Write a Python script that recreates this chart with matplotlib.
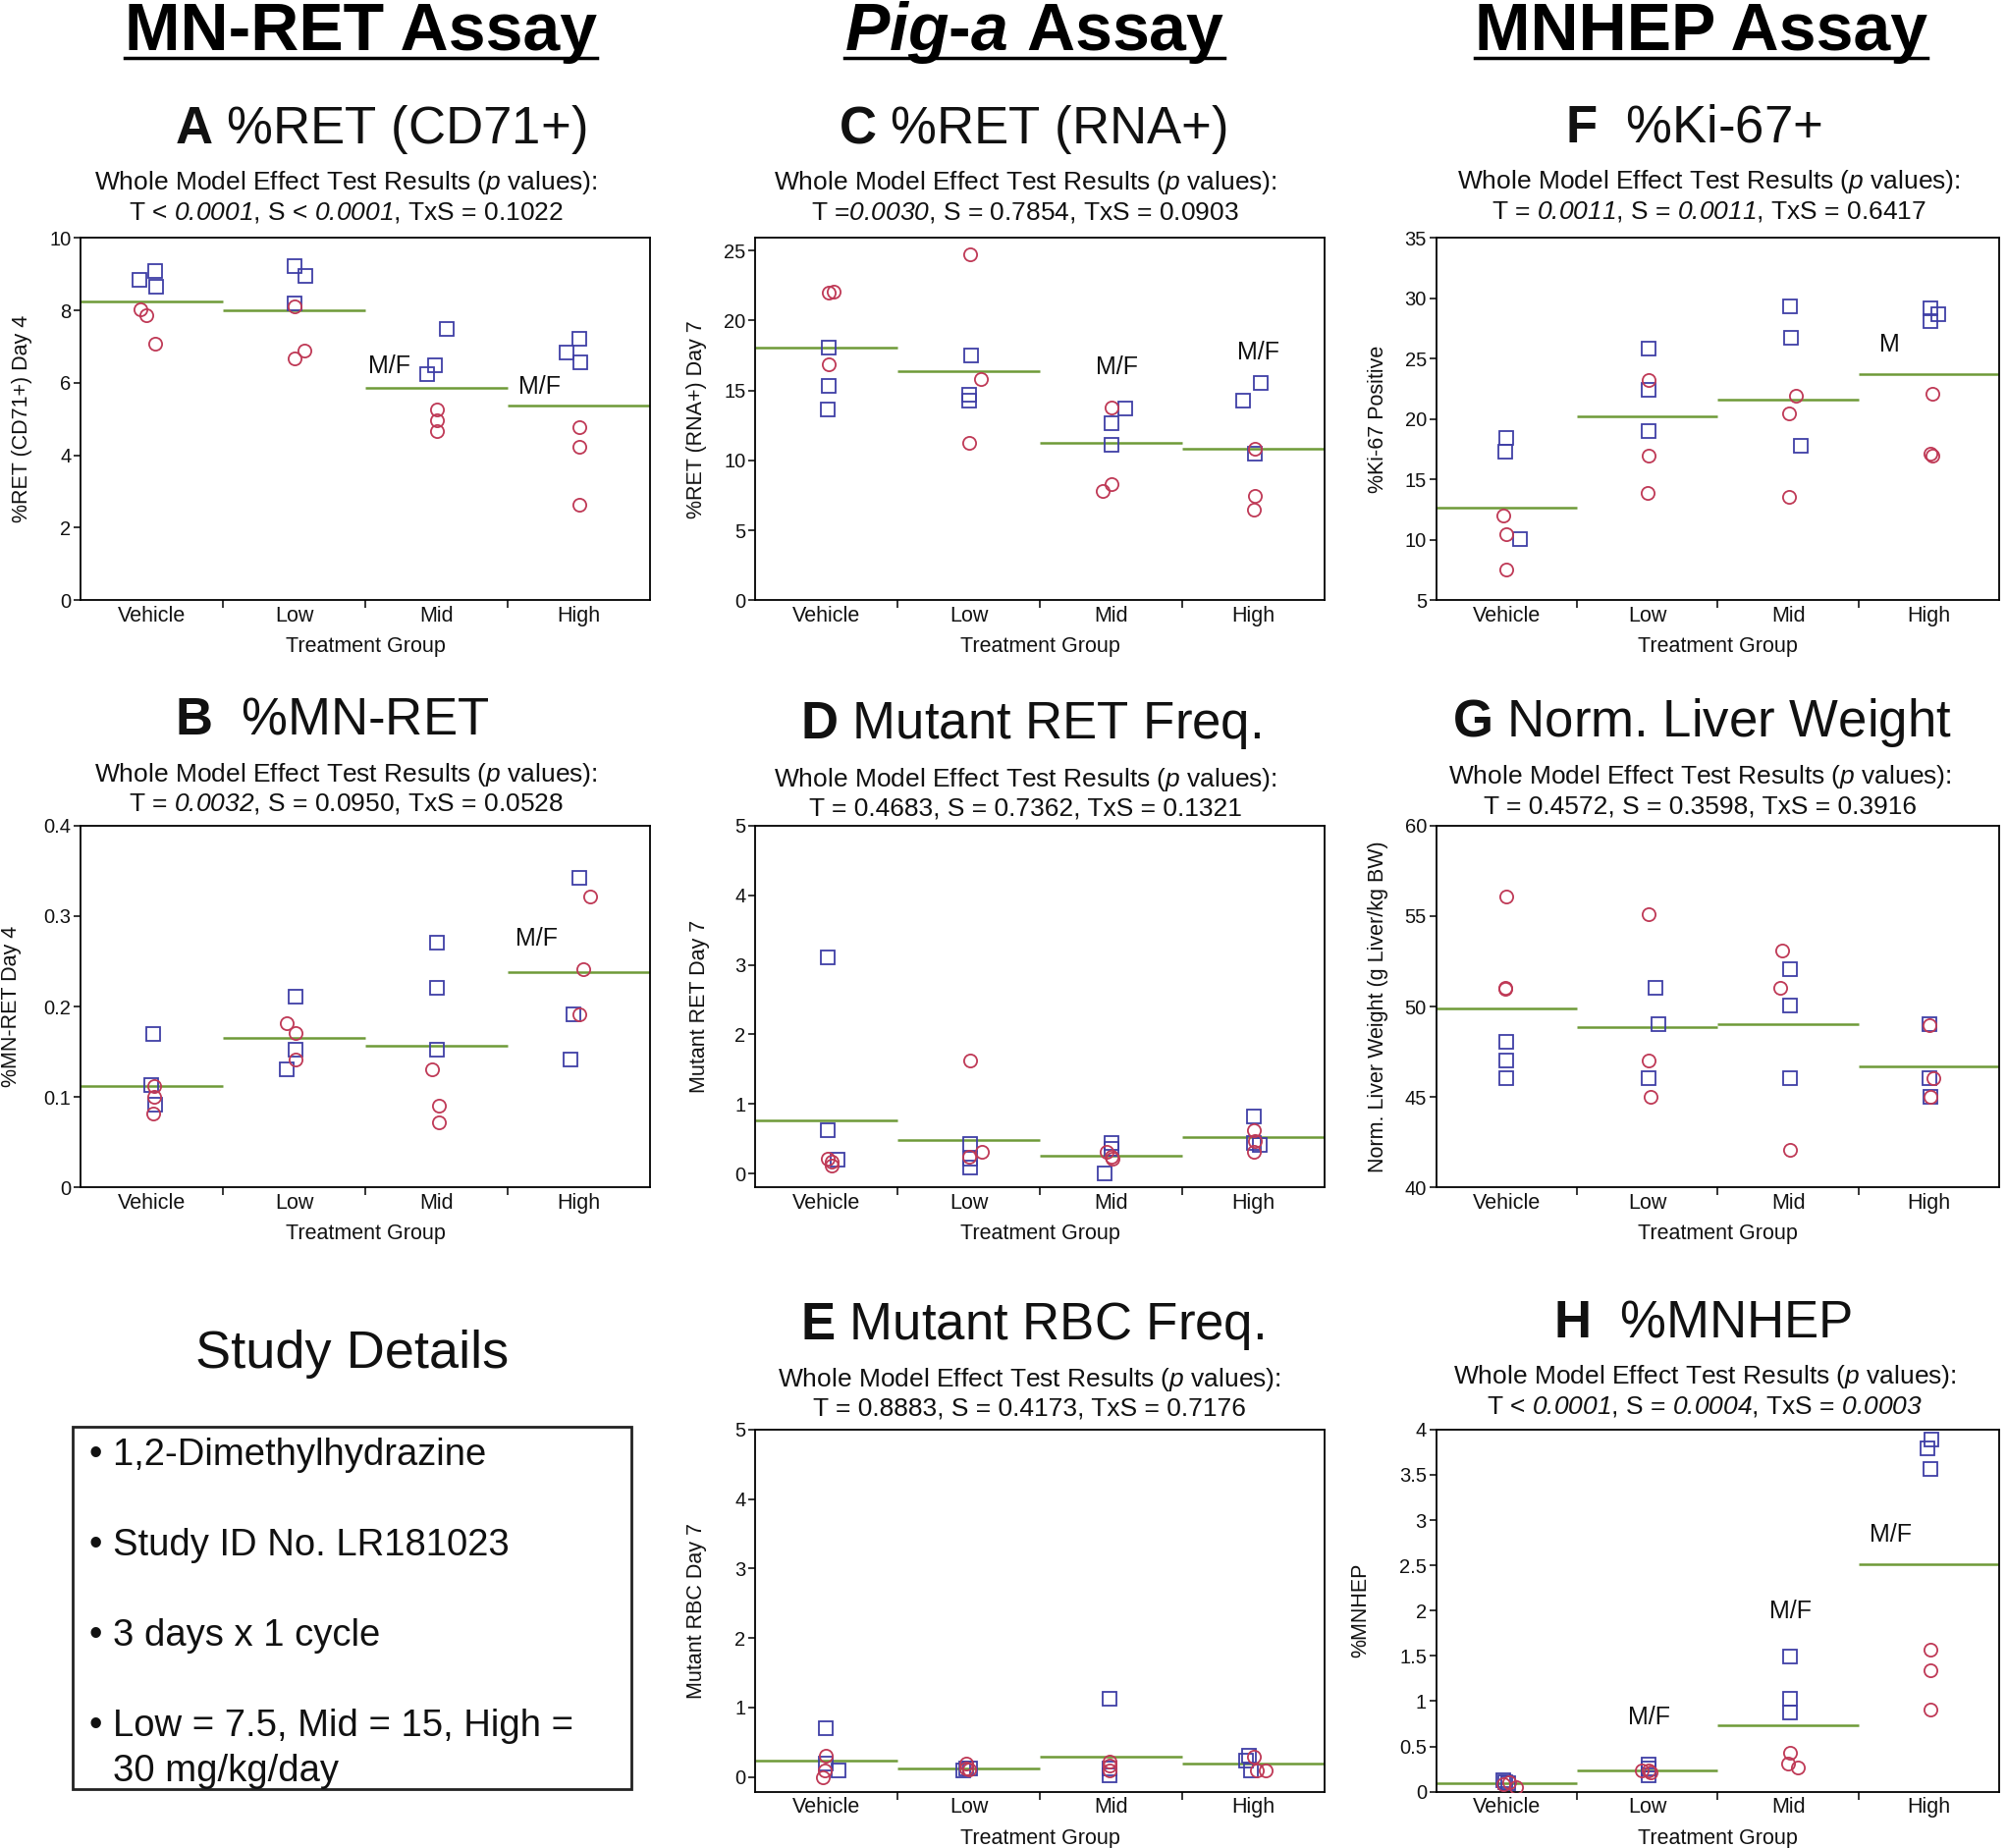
import numpy as np
import matplotlib
matplotlib.use("Agg")
import matplotlib.pyplot as plt
from matplotlib.lines import Line2D
from matplotlib.patches import Rectangle
from matplotlib.ticker import FuncFormatter

plt.rcParams['font.family'] = ['Liberation Sans', 'DejaVu Sans']
plt.rcParams['mathtext.fontset'] = 'custom'
plt.rcParams['mathtext.rm'] = 'Liberation Sans'
plt.rcParams['mathtext.it'] = 'Liberation Sans:italic'
plt.rcParams['mathtext.sf'] = 'Liberation Sans:italic'  # \mathsf used for italic digits
plt.rcParams['mathtext.bf'] = 'Liberation Sans:bold'
plt.rcParams['mathtext.bfit'] = 'Liberation Sans:bold:italic'

groups = ['Vehicle', 'Low', 'Mid', 'High']

# squares = males, circles = females; *_dx = horizontal scatter inside a group
a_male = [[8.85, 9.08, 8.65], [9.23, 8.95, 8.2], [7.5, 6.48, 6.25], [6.85, 7.23, 6.58]]
a_male_dx = [[-0.09, 0.02, 0.03], [0.0, 0.08, 0.0], [0.07, -0.01, -0.07], [-0.09, 0.0, 0.01]]
a_female = [[8.02, 7.87, 7.08], [6.67, 6.9, 8.12], [5.27, 4.97, 4.67], [4.77, 4.25, 2.65]]
a_female_dx = [[-0.08, -0.04, 0.02], [0.0, 0.07, 0.0], [0.0, 0.0, 0.0], [0.0, 0.0, 0.0]]
a_mean = [8.25, 8.0, 5.85, 5.38]

b_male = [[0.17, 0.113, 0.092], [0.211, 0.152, 0.131], [0.271, 0.221, 0.152], [0.342, 0.191, 0.141]]
b_male_dx = [[0.01, -0.003, 0.02], [0.006, 0.006, -0.054], [0.0, 0.0, 0.0], [0.0, -0.042, -0.063]]
b_female = [[0.112, 0.1, 0.082], [0.182, 0.171, 0.142], [0.131, 0.091, 0.072], [0.322, 0.241, 0.191]]
b_female_dx = [[0.018, 0.018, 0.012], [-0.054, 0.006, 0.006], [-0.03, 0.015, 0.015], [0.078, 0.027, 0.0]]
b_mean = [0.112, 0.165, 0.157, 0.238]

c_male = [[18.05, 15.3, 13.67], [17.53, 14.7, 14.3], [13.72, 12.68, 11.12], [15.55, 14.24, 10.5]]
c_male_dx = [[0.018, 0.018, 0.012], [0.018, 0.003, 0.003], [0.1, 0.003, 0.003], [0.048, -0.072, 0.006]]
c_female = [[22.0, 22.1, 16.85], [24.74, 15.8, 11.28], [13.75, 8.33, 7.81], [10.86, 7.47, 6.46]]
c_female_dx = [[0.018, 0.048, 0.018], [0.009, 0.084, 0.0], [0.003, 0.003, -0.063], [0.006, 0.012, 0.003]]
c_mean = [18.05, 16.4, 11.28, 10.86]

d_male = [[3.1, 0.62, 0.2], [0.43, 0.21, 0.09], [0.44, 0.35, 0.01], [0.82, 0.44, 0.41]]
d_male_dx = [[0.012, 0.012, 0.078], [0.009, 0.009, 0.009], [0.003, 0.003, -0.048], [0.0, 0.0, 0.042]]
d_female = [[0.22, 0.18, 0.12], [1.62, 0.32, 0.25], [0.31, 0.25, 0.21], [0.62, 0.47, 0.31]]
d_female_dx = [[0.012, 0.039, 0.039], [0.009, 0.09, 0.003], [-0.033, 0.0, 0.012], [0.0, 0.012, 0.0]]
d_mean = [0.76, 0.49, 0.26, 0.52]

e_male = [[0.71, 0.2, 0.1], [0.12, 0.1, 0.13], [1.12, 0.12, 0.02], [0.31, 0.24, 0.1]]
e_male_dx = [[-0.006, -0.006, 0.084], [-0.015, -0.036, 0.009], [-0.009, -0.009, -0.009], [-0.033, -0.05, -0.018]]
e_female = [[0.31, 0.1, 0.0], [0.2, 0.12, 0.11], [0.23, 0.17, 0.09], [0.29, 0.1, 0.1]]
e_female_dx = [[-0.006, -0.012, -0.027], [-0.015, -0.015, 0.0], [-0.009, -0.009, -0.009], [0.0, 0.021, 0.087]]
e_mean = [0.24, 0.13, 0.30, 0.19]

f_male = [[18.44, 17.3, 10.04], [25.85, 22.4, 19.01], [29.3, 26.7, 17.8], [29.2, 28.7, 28.1]]
f_male_dx = [[0.0, -0.009, 0.097], [0.006, 0.006, 0.006], [0.012, 0.021, 0.088], [0.009, 0.064, 0.009]]
f_female = [[12.05, 10.46, 7.55], [23.2, 17.0, 13.85], [21.9, 20.45, 13.55], [22.1, 17.0, 17.15]]
f_female_dx = [[-0.024, 0.0, 0.0], [0.006, 0.006, 0.0], [0.052, 0.009, 0.009], [0.024, 0.024, 0.012]]
f_mean = [12.65, 20.2, 21.65, 23.75]

g_male = [[48.04, 47.04, 46.03], [51.05, 49.05, 46.03], [52.06, 50.05, 46.03], [49.05, 46.03, 45.03]]
g_male_dx = [[0.0, 0.0, 0.0], [0.058, 0.082, 0.012], [0.012, 0.012, 0.012], [0.003, 0.003, 0.009]]
g_female = [[56.08, 51.05, 51.0], [55.08, 47.04, 45.03], [53.07, 51.05, 42.07], [49.0, 46.03, 45.0]]
g_female_dx = [[0.0, -0.009, -0.009], [0.012, 0.006, 0.021], [-0.039, -0.055, 0.012], [0.003, 0.033, 0.009]]
g_mean = [49.9, 48.86, 49.05, 46.69]

h_male = [[0.13, 0.11, 0.09], [0.3, 0.26, 0.18], [1.49, 1.03, 0.88], [3.89, 3.79, 3.56]]
h_male_dx = [[-0.024, -0.009, 0.015], [0.006, 0.006, 0.006], [0.012, 0.015, 0.015], [0.018, -0.012, 0.012]]
h_female = [[0.1, 0.08, 0.05], [0.23, 0.24, 0.21], [0.43, 0.31, 0.27], [1.57, 1.34, 0.91]]
h_female_dx = [[0.021, -0.024, 0.067], [0.006, -0.039, 0.021], [0.012, 0.0, 0.067], [0.009, 0.009, 0.009]]
h_mean = [0.093, 0.234, 0.734, 2.51]

study_items = ['\u2022 1,2-Dimethylhydrazine', '\u2022 Study ID No. LR181023',
               '\u2022 3 days x 1 cycle', '\u2022 Low = 7.5, Mid = 15, High =']
study_item_cont = '30 mg/kg/day'

male_col = '#3f3fa6'
female_col = '#bf3956'
mean_col = '#6e9a38'

# layout measured in a 1568 x 1444 frame
W, H = 1568.0, 1444.0
def fx(x):
    return x / W
def fy(y):
    return 1 - y / H

col_left = [63, 590, 1122]
col_width = [445, 445, 440]
row_top = [186, 645, 1117]
ax_h = 283

panels = [
    dict(col=0, row=0, title=r'$\mathbf{A}$ %RET (CD71+)', title_xy=(297, 101), sub_x=270,
         sub2=r'T < $\mathsf{0.0001}$, S < $\mathsf{0.0001}$, TxS = 0.1022',
         ylabel='%RET (CD71+) Day 4', ylab_x=-0.085, ylim=(0, 10), yticks=[0, 2, 4, 6, 8, 10],
         m=a_male, mdx=a_male_dx, f=a_female, fdx=a_female_dx, mean=a_mean,
         notes=[(1.67, 6.45, 'M/F'), (2.72, 5.9, 'M/F')]),
    dict(col=0, row=1, title=r'$\mathbf{B}$  %MN-RET', title_xy=(259, 563), sub_x=270,
         sub2=r'T = $\mathsf{0.0032}$, S = 0.0950, TxS = 0.0528',
         ylabel='%MN-RET Day 4', ylab_x=-0.104, ylim=(0, 0.4), yticks=[0, 0.1, 0.2, 0.3, 0.4],
         m=b_male, mdx=b_male_dx, f=b_female, fdx=b_female_dx, mean=b_mean,
         notes=[(2.70, 0.275, 'M/F')]),
    dict(col=1, row=0, title=r'$\mathbf{C}$ %RET (RNA+)', title_xy=(807, 101), sub_x=801,
         sub2=r'T =$\mathsf{0.0030}$, S = 0.7854, TxS = 0.0903',
         ylabel='%RET (RNA+) Day 7', ylab_x=-0.085, ylim=(0, 25.9), yticks=[0, 5, 10, 15, 20, 25],
         m=c_male, mdx=c_male_dx, f=c_female, fdx=c_female_dx, mean=c_mean,
         notes=[(2.04, 16.67, 'M/F'), (3.03, 17.7, 'M/F')]),
    dict(col=1, row=1, title=r'$\mathbf{D}$ Mutant RET Freq.', title_xy=(805, 567), sub_x=801,
         sub2=r'T = 0.4683, S = 0.7362, TxS = 0.1321',
         ylabel='Mutant RET Day 7', ylab_x=-0.08, ylim=(-0.2, 5), yticks=[0, 1, 2, 3, 4, 5],
         m=d_male, mdx=d_male_dx, f=d_female, fdx=d_female_dx, mean=d_mean, notes=[]),
    dict(col=1, row=2, title=r'$\mathbf{E}$ Mutant RBC Freq.', title_xy=(806, 1036), sub_x=804,
         sub2=r'T = 0.8883, S = 0.4173, TxS = 0.7176',
         ylabel='Mutant RBC Day 7', ylab_x=-0.085, ylim=(-0.21, 5), yticks=[0, 1, 2, 3, 4, 5],
         m=e_male, mdx=e_male_dx, f=e_female, fdx=e_female_dx, mean=e_mean, notes=[]),
    dict(col=2, row=0, title=r'$\mathbf{F}$  %Ki-67+', title_xy=(1323, 100), sub_x=1335,
         sub2=r'T = $\mathsf{0.0011}$, S = $\mathsf{0.0011}$, TxS = 0.6417',
         ylabel='%Ki-67 Positive', ylab_x=-0.085, ylim=(5, 35), yticks=[5, 10, 15, 20, 25, 30, 35],
         m=f_male, mdx=f_male_dx, f=f_female, fdx=f_female_dx, mean=f_mean,
         notes=[(2.72, 26.15, 'M')]),
    dict(col=2, row=1, title=r'$\mathbf{G}$ Norm. Liver Weight', title_xy=(1330, 565), sub_x=1328,
         sub2=r'T = 0.4572, S = 0.3598, TxS = 0.3916',
         ylabel='Norm. Liver Weight (g Liver/kg BW)', ylab_x=-0.085, ylim=(40, 60),
         yticks=[40, 45, 50, 55, 60],
         m=g_male, mdx=g_male_dx, f=g_female, fdx=g_female_dx, mean=g_mean, notes=[]),
    dict(col=2, row=2, title=r'$\mathbf{H}$  %MNHEP', title_xy=(1330, 1034), sub_x=1332,
         sub2=r'T < $\mathsf{0.0001}$, S = $\mathsf{0.0004}$, TxS = $\mathsf{0.0003}$',
         ylabel='%MNHEP', ylab_x=-0.115, ylim=(0, 4), yticks=[0, 0.5, 1, 1.5, 2, 2.5, 3, 3.5, 4],
         m=h_male, mdx=h_male_dx, f=h_female, fdx=h_female_dx, mean=h_mean,
         notes=[(1.01, 0.82, 'M/F'), (2.015, 1.99, 'M/F'), (2.73, 2.84, 'M/F')]),
]

sub1 = r'Whole Model Effect Test Results ($\mathsf{p}$ values):'
txt_col = '#111111'

fig = plt.figure(figsize=(20.44, 18.82), dpi=100)

for p in panels:
    c, r = p['col'], p['row']
    rect = [fx(col_left[c]), fy(row_top[r] + ax_h), fx(col_width[c]), ax_h / H]
    ax = fig.add_axes(rect)
    xs = np.arange(len(groups))
    for i in xs:
        ax.plot(i + np.array(p['mdx'][i]), p['m'][i], ls='none', marker='s', ms=10.5,
                mfc='none', mec=male_col, mew=1.3, zorder=3)
        ax.plot(i + np.array(p['fdx'][i]), p['f'][i], ls='none', marker='o', ms=9.5,
                mfc='none', mec=female_col, mew=1.3, zorder=3)
    ax.hlines(p['mean'], xs - 0.5, xs + 0.5, colors=mean_col, lw=1.8, zorder=2)
    for nx, ny, s in p['notes']:
        ax.text(nx, ny, s, ha='center', va='center', fontsize=18, color=txt_col)

    ax.set_xlim(-0.5, 3.5)
    ax.set_ylim(p['ylim'])
    ax.set_yticks(p['yticks'])
    ax.yaxis.set_major_formatter(FuncFormatter(lambda v, _: '%g' % v))
    ax.set_xticks([0.5, 1.5, 2.5])
    ax.set_xticklabels([])
    ax.set_xticks(xs, minor=True)
    ax.set_xticklabels(groups, minor=True)
    ax.tick_params(axis='x', which='minor', length=0, labelsize=15.5, pad=4, labelcolor=txt_col)
    ax.tick_params(axis='x', which='major', length=6, width=1.1)
    ax.tick_params(axis='y', length=5, width=1.1, labelsize=14.5, pad=2, labelcolor=txt_col)
    for sp in ax.spines.values():
        sp.set_linewidth(1.3)
    ax.set_xlabel('Treatment Group', fontsize=15.5, color=txt_col)
    ax.xaxis.set_label_coords(0.5, -0.1)
    ax.set_ylabel(p['ylabel'], fontsize=15.5, color=txt_col)
    ax.yaxis.set_label_coords(p['ylab_x'], 0.5)

    tx, ty = p['title_xy']
    fig.text(fx(tx), fy(ty), p['title'], ha='center', va='center', fontsize=38, color=txt_col)
    fig.text(fx(p['sub_x']), fy(ty + 42), sub1, ha='center', va='center', fontsize=19, color=txt_col)
    fig.text(fx(p['sub_x']), fy(ty + 65), p['sub2'], ha='center', va='center', fontsize=19,
             color=txt_col)

# column headers, underlined
headers = [('MN-RET Assay', 282), (r'$\mathbfit{Pig}$-$\mathbfit{a}$ Assay', 808), ('MNHEP Assay', 1329)]
head_texts = []
for s, hx in headers:
    t = fig.text(fx(hx), fy(39), s, ha='center', va='baseline', fontsize=49,
                 fontweight='bold', color='black')
    head_texts.append(t)
fig.canvas.draw()
inv = fig.transFigure.inverted()
for t in head_texts:
    bb = t.get_window_extent().transformed(inv)
    fig.add_artist(Line2D([bb.x0, bb.x1], [fy(45), fy(45)], color='black', lw=2.5,
                          transform=fig.transFigure))

# study details
fig.text(fx(275), fy(1058), 'Study Details', ha='center', va='center', fontsize=39, color=txt_col)
fig.add_artist(Rectangle((fx(57), fy(1398)), fx(493 - 57), (1398 - 1115) / H, fill=False,
                         ec='#222222', lw=2, transform=fig.transFigure))
for k, s in enumerate(study_items):
    fig.text(fx(70), fy(1137 + 70.5 * k), s, ha='left', va='center', fontsize=27.5, color=txt_col)
fig.text(fx(88), fy(1384), study_item_cont, ha='left', va='center', fontsize=27.5, color=txt_col)

fig.savefig('out.png', dpi=100)
